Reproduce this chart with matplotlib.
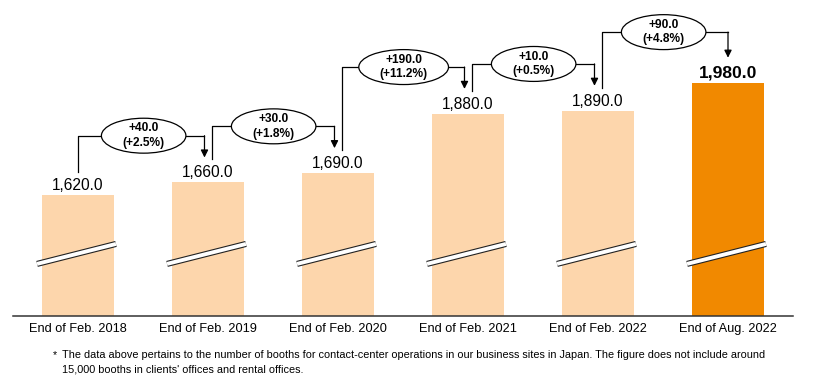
import matplotlib
matplotlib.use("Agg")
import matplotlib.pyplot as plt
from matplotlib.patches import Ellipse

plt.rcParams['font.family'] = ['Liberation Sans', 'DejaVu Sans']

# data
periods = ["End of Feb. 2018", "End of Feb. 2019", "End of Feb. 2020",
           "End of Feb. 2021", "End of Feb. 2022", "End of Aug. 2022"]
booths = [1620.0, 1660.0, 1690.0, 1880.0, 1890.0, 1980.0]
highlight = 5

footnote = ["The data above pertains to the number of booths for contact-center operations in our business sites in Japan. The figure does not include around",
            "15,000 booths in clients' offices and rental offices."]

LIGHT = '#FDD6AC'
ORANGE = '#F18900'

fig = plt.figure(figsize=(8.16, 3.86), dpi=100)
ax = fig.add_axes([13/816, 70/386, 780/816, 316/386])

x = list(range(len(booths)))
colors = [ORANGE if i == highlight else LIGHT for i in x]
ax.bar(x, booths, width=0.555, color=colors, zorder=2)

ax.set_xlim(-0.5, len(booths) - 0.5)
ax.set_ylim(1232, 2245)
ax.set_yticks([])
ax.set_xticks(x, periods)
ax.tick_params(axis='x', length=0, pad=5, labelsize=9.2)
for s in ['left', 'right', 'top']:
    ax.spines[s].set_visible(False)
ax.spines['bottom'].set_linewidth(1.1)
ax.spines['bottom'].set_color('#333333')

# axis break marks across every bar
for c in x:
    bx = [c - 0.315, c + 0.292]
    by = [1399, 1463]
    ax.plot(bx, by, color='#222222', lw=4.4, solid_capstyle='butt', zorder=3)
    ax.plot(bx, by, color='white', lw=2.8, solid_capstyle='butt', zorder=4)

# value labels
for c, v in zip(x, booths):
    bold = c == highlight
    ax.annotate(f"{v:,.1f}", (c, v), xytext=(0, 1.5), textcoords='offset points',
                ha='center', va='bottom', fontsize=12.6 if bold else 11.2,
                fontweight='bold' if bold else 'normal', color='black')

# change bubbles with connectors
nb = len(booths)
for i in range(nb - 1):
    v0, v1 = booths[i], booths[i + 1]
    diff = v1 - v0
    pct = diff / v0 * 100
    top = f"+{diff:.1f}"
    bot = f"(+{pct:.1f}%)"
    ey = max(v0, v1) + 150 + (12 if i + 1 == highlight else 0)
    ex = i + 0.505
    ew = 0.04 * len(bot) + 0.37
    eh = 112

    xs = i + (0.027 if i > 0 else 0)
    xe = i + 1 - (0.027 if i + 1 < nb - 1 else 0)

    ax.plot([xs, xs, ex - ew / 2], [v0 + 74, ey, ey], color='black', lw=0.9, zorder=5)
    ax.plot([ex + ew / 2, xe], [ey, ey], color='black', lw=0.9, zorder=5)
    ax.annotate('', xy=(xe, v1 + 80), xytext=(xe, ey),
                arrowprops=dict(arrowstyle='-|>', color='black', lw=0.9,
                                mutation_scale=11, shrinkA=0, shrinkB=0), zorder=5)

    ax.add_patch(Ellipse((ex, ey), ew, eh, facecolor='white', edgecolor='black',
                         lw=0.9, zorder=6))
    ax.text(ex, ey, f"{top}\n{bot}", ha='center', va='center', fontsize=8.6,
            fontweight='bold', linespacing=1.3, zorder=7)

# footnote
fig.text(53/816, 1 - 355/386, "*", fontsize=7.8, va='center', ha='left')
fig.text(62/816, 1 - 355/386, footnote[0], fontsize=7.8, va='center', ha='left')
fig.text(62/816, 1 - 369/386, footnote[1], fontsize=7.8, va='center', ha='left')

fig.savefig("out.png", dpi=100)
